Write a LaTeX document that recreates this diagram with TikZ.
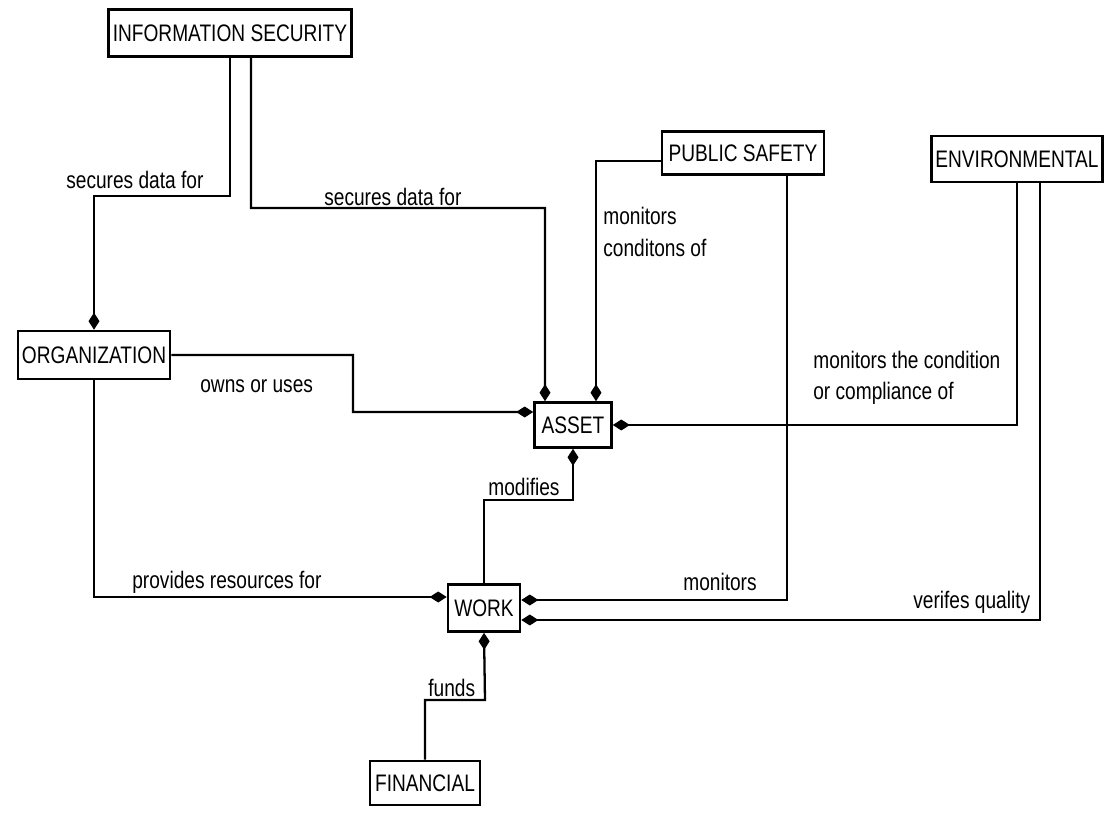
\documentclass[tikz,border=0pt]{standalone}
\usepackage{fontspec}
\setmainfont{Liberation Sans}[FakeStretch=0.8]
\usetikzlibrary{arrows.meta}

\tikzset{
  entity/.style={draw=black, line width=1.5pt, inner sep=0pt, font=\fontsize{13.6}{16}\selectfont},
  rel/.style={line width=1.3pt, -{Diamond[length=0.34cm,width=0.22cm]}},
  lbl/.style={anchor=west, inner sep=0pt, align=left, font=\fontsize{13.6}{18}\selectfont}
}

\begin{document}
\begin{tikzpicture}[x=0.02cm,y=-0.02cm]
   \useasboundingbox (0,0) rectangle (1110,814);
   \begin{scope}[every node/.style={entity}]
    \node[minimum width=4.86cm, minimum height=0.94cm] (infosec) at (230,33) {INFORMATION SECURITY};
    \node[minimum width=3.24cm, minimum height=0.86cm] (pubsafety) at (743,153) {PUBLIC SAFETY};
    \node[minimum width=3.42cm, minimum height=0.92cm] (environ) at (1017,159) {ENVIRONMENTAL};
    \node[minimum width=3.04cm, minimum height=0.96cm] (org) at (94,355) {ORGANIZATION};
    \node[minimum width=1.54cm, minimum height=0.90cm] (asset) at (573,425) {ASSET};
    \node[minimum width=1.44cm, minimum height=0.94cm] (work) at (484,608) {WORK};
    \node[minimum width=2.20cm, minimum height=0.88cm] (financial) at (425,783) {FINANCIAL};
   \end{scope}
   \begin{scope}[every path/.style={rel}]
    \draw (infosec.south) |- (94,196) -- (org.north);
    \draw ([xshift=0.42cm]infosec.south) |- (545,208) -- ([xshift=-0.56cm]asset.north);
    \draw ([yshift=-0.16cm]pubsafety.west) -| ([xshift=0.46cm]asset.north);
    \draw ([xshift=0.88cm]pubsafety.south) |- ([yshift=0.16cm]work.east);
    \draw (environ.south) |- (asset.east);
    \draw ([xshift=0.46cm]environ.south) |- ([yshift=-0.24cm]work.east);
    \draw (org.east) -| (353,412) -- ([yshift=0.26cm]asset.west);
    \draw (org.south) |- ([yshift=0.22cm]work.west);
    \draw (work.north) |- (573,500) -- (asset.south);
    \draw (financial.north) |- (485,700) -- (work.south);
   \end{scope}
   \begin{scope}[every node/.style={lbl}]
    \node (l1) at (66,180) {secures data for};
    \node (l2) at (324,197) {secures data for};
    \node (l3) at (603,232) {monitors\\conditons of};
    \node (l4) at (200,386) {owns or uses};
    \node (l5) at (813,378) {monitors the condition\\ or compliance of};
    \node (l6) at (488,487) {modifies};
    \node (l7) at (132,582) {provides resources for};
    \node (l8) at (683,582) {monitors};
    \node (l9) at (913,602) {verifes quality};
    \node (l10) at (428,688) {funds};
   \end{scope}
\end{tikzpicture}
\end{document}
